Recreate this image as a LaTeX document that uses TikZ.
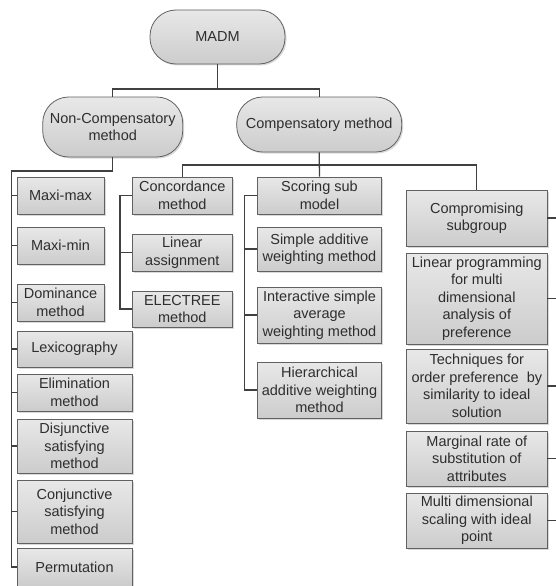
\documentclass[tikz,border=0pt]{standalone}
\usepackage{fontspec}
\setmainfont{Liberation Sans}
\usepackage{xcolor}
\usepackage{tikz}
\usetikzlibrary{shadows,calc}

\begin{document}
\begin{tikzpicture}[
    x=1pt, y=-1pt,
    font=\fontsize{14.5}{17.5}\selectfont,
    box/.style={rectangle, draw=black!62, line width=0.8pt, top color=gray!18, bottom color=gray!40, text=black!82, align=center, inner sep=0pt,
        drop shadow={shadow xshift=1.5pt, shadow yshift=-1.5pt, opacity=0.25, fill=black!60}},
    pill/.style={box, rounded corners=26pt},
    link/.style={draw=black!75, line width=1.3pt},
]
\useasboundingbox (0,0) rectangle (556,586);

% Root
\node[pill, minimum width=135, minimum height=54] (madm) at (217.5,37) {MADM};

% Second level
\node[pill, minimum width=140, minimum height=60] (noncomp) at (112.7,127) {Non-Compensatory\\method};
\node[pill, minimum width=165, minimum height=55] (comp) at (319.2,124.5) {Compensatory method};
\coordinate (topbus) at (217.5,89);
\draw[link] (madm) -- (topbus);
\draw[link] (topbus) -| (noncomp.north);
\draw[link] (topbus) -| (comp.north);

% Non-compensatory methods
\node[box, minimum width=87, minimum height=37] (maximax) at (60.5,195.5) {Maxi-max};
\node[box, minimum width=87, minimum height=37] (maximin) at (60.5,245.5) {Maxi-min};
\node[box, minimum width=87, minimum height=37] (dominance) at (60.5,302.5) {Dominance\\method};
\node[box, minimum width=115, minimum height=36] (lexico) at (74.5,349) {Lexicography};
\node[box, minimum width=115, minimum height=37] (elim) at (74.5,392.5) {Elimination\\method};
\node[box, minimum width=115, minimum height=54] (disj) at (74.5,446) {Disjunctive\\satisfying\\method};
\node[box, minimum width=115, minimum height=63] (conj) at (74.5,511.5) {Conjunctive\\satisfying\\method};
\node[box, minimum width=115, minimum height=38] (perm) at (74.5,567) {Permutation};
\coordinate (leftbus) at (11.7,171);
\draw[link] (noncomp.south) |- (leftbus) |- (perm.west);
\foreach \n in {maximax,maximin,dominance,lexico,elim,disj,conj}
    \draw[link] (leftbus |- \n.west) -- (\n.west);

% Compensatory: concordance group
\node[box, minimum width=100, minimum height=37] (conc) at (182.3,195.5) {Concordance\\method};
\node[box, minimum width=100, minimum height=37] (linass) at (182.3,252.5) {Linear\\assignment};
\node[box, minimum width=100, minimum height=36] (electree) at (182.3,309) {ELECTREE\\method};
\draw[link] (conc.west) -| ([xshift=-12pt]electree.west) -- (electree.west);
\draw[link] (linass.west) -- ++(-12,0);

% Compensatory: scoring group
\node[box, minimum width=124.4, minimum height=37] (scoring) at (319.5,195.5) {Scoring sub\\model};
\node[box, minimum width=124.4, minimum height=44] (saw) at (319.5,249) {Simple additive\\weighting method};
\node[box, minimum width=124.4, minimum height=56] (isaw) at (319.5,315) {Interactive simple\\average\\weighting method};
\node[box, minimum width=124.4, minimum height=56] (hier) at (319.5,390) {Hierarchical\\additive weighting\\method};
\draw[link] (comp.south) -- (scoring.north);
\draw[link] (scoring.west) -| ([xshift=-12.3pt]hier.west) -- (hier.west);
\draw[link] (saw.west) -- ++(-12.3,0);
\draw[link] (isaw.west) -- ++(-12.3,0);

% Compensatory: compromising group
\node[box, minimum width=140.5, minimum height=56] (compr) at (476.8,218) {Compromising\\subgroup};
\node[box, minimum width=140.5, minimum height=91] (linprog) at (476.8,298.5) {Linear programming\\for multi\\dimensional\\analysis of\\preference};
\node[box, minimum width=140.5, minimum height=74] (topsis) at (476.8,386) {Techniques for\\order preference\ \ by\\similarity to ideal\\solution};
\node[box, minimum width=140.5, minimum height=55] (mrs) at (476.8,458.5) {Marginal rate of\\substitution of\\attributes};
\node[box, minimum width=140.5, minimum height=55] (mds) at (476.8,520.5) {Multi dimensional\\scaling with ideal\\point};
\coordinate (compbus) at (319.2,165);
\draw[link] (conc.north) |- (compbus) -| (compr.north);
\foreach \n in {compr,linprog,topsis,mrs,mds}
    \draw[link] (\n.east) -- ++(12,0);
\end{tikzpicture}
\end{document}
